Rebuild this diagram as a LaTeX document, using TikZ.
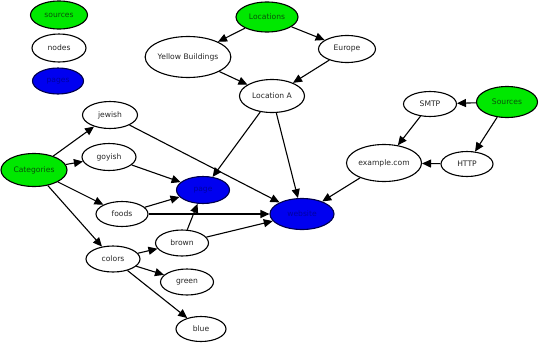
\documentclass[tikz,border=0pt]{standalone}
\usepackage{fontspec}
\setmainfont{DejaVu Sans}
\usetikzlibrary{arrows.meta,shapes.geometric}
\definecolor{gvgreen}{HTML}{00E800}
\definecolor{gvblue}{HTML}{0000F0}
\definecolor{gvtxtgreen}{HTML}{0A500A}
\definecolor{gvtxtblue}{HTML}{0000A0}
\tikzset{
  nd/.style={draw=black, line width=1.1pt, ellipse, fill=white, inner sep=0pt, font=\fontsize{7.6}{9}\selectfont, text=black!85},
  src/.style={nd, fill=gvgreen, text=gvtxtgreen},
  pg/.style={nd, fill=gvblue, draw=black!70!blue, text=gvtxtblue},
  edge/.style={line width=1.1pt, -{Triangle[length=9pt,width=8pt]}},
}
\begin{document}
\begin{tikzpicture}[x=1pt,y=-1pt]
\useasboundingbox (0,0) rectangle (540,343);
\node[src, minimum width=57pt, minimum height=28pt] (lsrc) at (59,15) {sources};
\node[nd, minimum width=54pt, minimum height=28pt] (lnodes) at (59,48) {nodes};
\node[pg, minimum width=51pt, minimum height=26pt] (lpages) at (58,81) {pages};

\node[src, minimum width=62pt, minimum height=30pt] (loc) at (267,17) {Locations};
\node[nd, minimum width=83pt, minimum height=41pt] (yb) at (188,57) {Yellow Buildings};
\node[nd, minimum width=57pt, minimum height=27pt] (eu) at (347,49) {Europe};
\node[nd, minimum width=65pt, minimum height=33pt] (la) at (272,96) {Location A};

\node[nd, minimum width=53pt, minimum height=25pt] (smtp) at (430,104) {SMTP};
\node[src, minimum width=61pt, minimum height=31pt] (srcs) at (507,102) {Sources};
\node[nd, minimum width=75pt, minimum height=37pt] (ex) at (384,163) {example.com};
\node[nd, minimum width=52pt, minimum height=25pt] (http) at (467,164) {HTTP};

\node[src, minimum width=66pt, minimum height=33pt] (cat) at (34,170) {Categories};
\node[nd, minimum width=55pt, minimum height=27pt] (jew) at (110,115) {jewish};
\node[nd, minimum width=54pt, minimum height=27pt] (goy) at (109,157) {goyish};
\node[nd, minimum width=52pt, minimum height=25pt] (food) at (122,214) {foods};
\node[nd, minimum width=54pt, minimum height=26pt] (col) at (113,259) {colors};
\node[nd, minimum width=53pt, minimum height=26pt] (brown) at (182,243) {brown};
\node[nd, minimum width=53pt, minimum height=26pt] (green) at (187,282) {green};
\node[nd, minimum width=50pt, minimum height=25pt] (blue) at (201,329) {blue};

\node[pg, minimum width=53pt, minimum height=27pt] (p1) at (203,190) {page};
\node[pg, minimum width=64pt, minimum height=31pt] (p2) at (302,214) {website};

\draw[edge] (loc) -- (yb);
\draw[edge] (loc) -- (eu);
\draw[edge] (yb) -- (la);
\draw[edge] (eu) -- (la);
\draw[edge] (la) -- (p1);
\draw[edge] (la) -- (p2);
\draw[edge] (srcs) -- (smtp);
\draw[edge] (srcs) -- (http);
\draw[edge] (smtp) -- (ex);
\draw[edge] (http) -- (ex);
\draw[edge] (ex) -- (p2);
\draw[edge] (cat) -- (jew);
\draw[edge] (cat) -- (goy);
\draw[edge] (cat) -- (food);
\draw[edge] (cat) -- (col);
\draw[edge] (jew) -- (p2);
\draw[edge] (goy) -- (p1);
\draw[edge] (food) -- (p1);
\draw[edge] (food) -- (p2);
\draw[edge] (col) -- (brown);
\draw[edge] (col) -- (green);
\draw[edge] (col) -- (blue);
\draw[edge] (brown) -- (p1);
\draw[edge] (brown) -- (p2);
\end{tikzpicture}
\end{document}
